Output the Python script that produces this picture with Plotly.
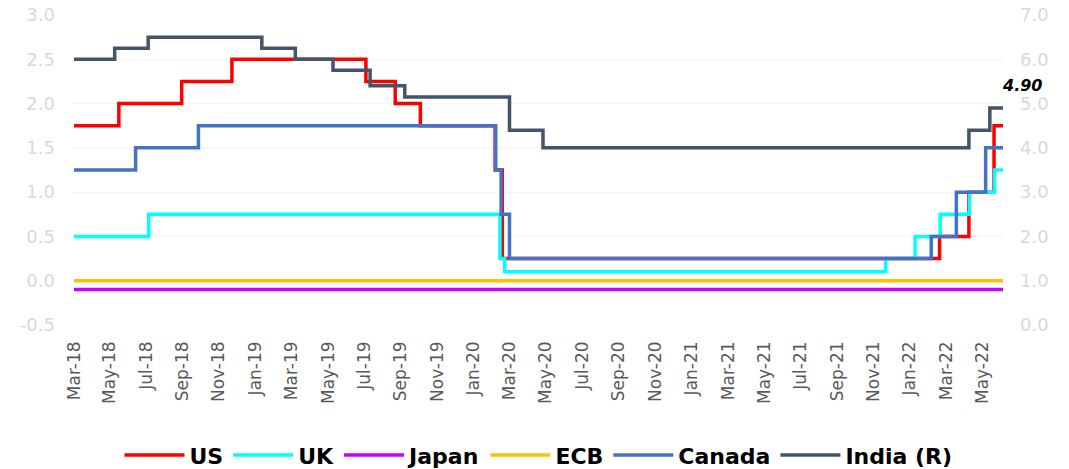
import plotly.graph_objects as go

# Policy rate change dates and the rate in force from each date (%)
us_dates = ["2018-03-30", "2018-06-13", "2018-09-26", "2018-12-19", "2019-07-31",
            "2019-09-18", "2019-10-30", "2020-03-03", "2020-03-15", "2022-03-16",
            "2022-05-04", "2022-06-15"]
us_rates = [1.75, 2.00, 2.25, 2.50, 2.25, 2.00, 1.75, 1.25, 0.25, 0.50, 1.00, 1.75]

uk_dates = ["2018-03-30", "2018-08-02", "2020-03-11", "2020-03-19", "2021-12-16",
            "2022-02-03", "2022-03-17", "2022-05-05", "2022-06-16"]
uk_rates = [0.50, 0.75, 0.25, 0.10, 0.25, 0.50, 0.75, 1.00, 1.25]

japan_dates = ["2018-03-30"]
japan_rates = [-0.10]

ecb_dates = ["2018-03-30"]
ecb_rates = [0.00]

canada_dates = ["2018-03-30", "2018-07-11", "2018-10-24", "2020-03-04", "2020-03-13",
                "2020-03-27", "2022-03-02", "2022-04-13", "2022-06-01"]
canada_rates = [1.25, 1.50, 1.75, 1.25, 0.75, 0.25, 0.50, 1.00, 1.50]

india_dates = ["2018-03-30", "2018-06-06", "2018-08-01", "2019-02-07", "2019-04-04",
               "2019-06-06", "2019-08-07", "2019-10-04", "2020-03-27", "2020-05-22",
               "2022-05-04", "2022-06-08"]
india_rates = [6.00, 6.25, 6.50, 6.25, 6.00, 5.75, 5.40, 5.15, 4.40, 4.00, 4.40, 4.90]

start_date = "2018-03-30"
end_date = "2022-06-30"

tick_dates = ["2018-03-30", "2018-05-29", "2018-07-29", "2018-09-28", "2018-11-27",
              "2019-01-27", "2019-03-29", "2019-05-29", "2019-07-28", "2019-09-27",
              "2019-11-27", "2020-01-27", "2020-03-27", "2020-05-27", "2020-07-27",
              "2020-09-26", "2020-11-26", "2021-01-26", "2021-03-28", "2021-05-27",
              "2021-07-27", "2021-09-26", "2021-11-25", "2022-01-25", "2022-03-27",
              "2022-05-27"]
tick_labels = ["Mar-18", "May-18", "Jul-18", "Sep-18", "Nov-18", "Jan-19", "Mar-19",
               "May-19", "Jul-19", "Sep-19", "Nov-19", "Jan-20", "Mar-20", "May-20",
               "Jul-20", "Sep-20", "Nov-20", "Jan-21", "Mar-21", "May-21", "Jul-21",
               "Sep-21", "Nov-21", "Jan-22", "Mar-22", "May-22"]

left_ticks = [-0.5, 0.0, 0.5, 1.0, 1.5, 2.0, 2.5, 3.0]
right_ticks = [0.0, 1.0, 2.0, 3.0, 4.0, 5.0, 6.0, 7.0]

series = [
    ("US", us_dates, us_rates, "#FF0000", "y"),
    ("UK", uk_dates, uk_rates, "#00FFFF", "y"),
    ("Japan", japan_dates, japan_rates, "#C800FF", "y"),
    ("ECB", ecb_dates, ecb_rates, "#FFC000", "y"),
    ("Canada", canada_dates, canada_rates, "#4472C4", "y"),
    ("India (R)", india_dates, india_rates, "#44546A", "y2"),
]

fig = go.Figure()
for name, dates, rates, color, axis in series:
    # extend the last rate to the end of the period
    xs = list(dates) + [end_date]
    ys = list(rates) + [rates[-1]]
    fig.add_trace(go.Scatter(
        x=xs, y=ys, name=name, mode="lines", line_shape="hv",
        line=dict(color=color, width=3.5), yaxis=axis,
    ))

fig.add_annotation(
    x=end_date, y=india_rates[-1], yref="y2", text=f"<b><i>{india_rates[-1]:.2f}</i></b>",
    showarrow=False, xanchor="left", yanchor="bottom", xshift=-3, yshift=11,
    font=dict(size=16, color="#000000", family="DejaVu Sans"),
)

tick_font = dict(family="DejaVu Sans", size=18, color="#D9D9D9")

fig.update_layout(
    width=1069, height=469,
    margin=dict(l=74, r=66, t=15, b=144, autoexpand=False),
    plot_bgcolor="white", paper_bgcolor="white",
    showlegend=True,
    legend=dict(
        orientation="h", x=0.5, xanchor="center", y=-0.42, yanchor="middle",
        font=dict(family="DejaVu Sans", size=22, color="#000000", weight="bold"),
        traceorder="normal", itemwidth=60,
    ),
    xaxis=dict(
        type="date", range=[start_date, end_date], automargin=False,
        tickmode="array", tickvals=tick_dates, ticktext=tick_labels,
        tickangle=-90, tickfont=dict(family="DejaVu Sans", size=17, color="#595959"),
        ticklabelstandoff=12,
        showgrid=False, showline=False, zeroline=False, ticks="",
    ),
    yaxis=dict(
        range=[-0.5, 3.0], tickmode="array", tickvals=left_ticks, automargin=False,
        ticktext=[f"{v:.1f}" for v in left_ticks], tickfont=tick_font,
        ticklabelstandoff=18,
        showgrid=True, gridcolor="#F4F4F4", gridwidth=1, zeroline=False,
        showline=False, ticks="",
    ),
    yaxis2=dict(
        range=[0.0, 7.0], tickmode="array", tickvals=right_ticks, automargin=False,
        ticktext=[f"{v:.1f}" for v in right_ticks], tickfont=tick_font,
        ticklabelstandoff=16,
        overlaying="y", side="right", showgrid=False, zeroline=False,
        showline=False, ticks="",
    ),
)

fig.write_html("out.html")
